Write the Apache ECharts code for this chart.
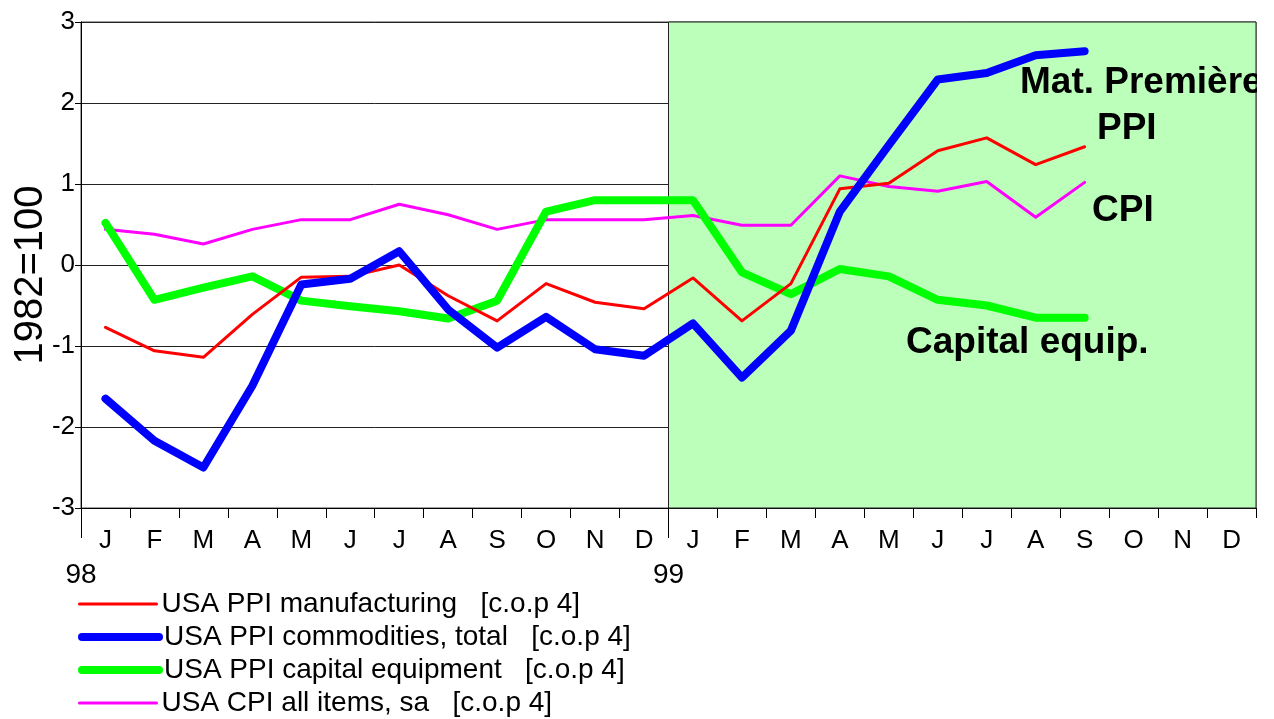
<!DOCTYPE html>
<html>
<head>
<meta charset="utf-8">
<script src="https://cdn.jsdelivr.net/npm/echarts@6/dist/echarts.min.js"></script>
<style>
html, body { margin: 0; padding: 0; background: #fff; }
#container { width: 1274px; height: 719px; }
</style>
</head>
<body>
<div id="container"></div>
<script>
'use strict';
var months = ['J','F','M','A','M','J','J','A','S','O','N','D',
              'J','F','M','A','M','J','J','A','S','O','N','D'];
var yearLabels = ['98', '99'];

// 1982=100, Jan 98 .. Dec 99 (no data after Sep 99)
var ppiManuf = [-0.77, -1.06, -1.14, -0.61, -0.15, -0.14, 0.00, -0.38, -0.69, -0.23, -0.46, -0.54,
                -0.16, -0.69, -0.23, 0.94, 1.01, 1.41, 1.57, 1.24, 1.46, null, null, null];
var ppiComm = [-1.65, -2.17, -2.50, -1.49, -0.24, -0.17, 0.17, -0.55, -1.02, -0.64, -1.04, -1.12,
               -0.72, -1.39, -0.81, 0.66, 1.48, 2.29, 2.37, 2.59, 2.64, null, null, null];
var ppiCapEq = [0.52, -0.43, -0.28, -0.14, -0.44, -0.51, -0.57, -0.66, -0.44, 0.66, 0.80, 0.80,
                0.80, -0.09, -0.36, -0.05, -0.14, -0.43, -0.50, -0.65, -0.65, null, null, null];
var cpiAll = [0.44, 0.38, 0.26, 0.44, 0.56, 0.56, 0.75, 0.62, 0.44, 0.56, 0.56, 0.56,
              0.61, 0.49, 0.49, 1.10, 0.97, 0.91, 1.03, 0.59, 1.02, null, null, null];

var names = ['USA PPI manufacturing   [c.o.p 4]',
             'USA PPI commodities, total   [c.o.p 4]',
             'USA PPI capital equipment   [c.o.p 4]',
             'USA CPI all items, sa   [c.o.p 4]'];
var legendWidths = [3, 8, 8, 3];

var dom = document.getElementById('container');
var myChart = echarts.init(dom, null, { renderer: 'canvas' });

function lineSeries(name, data, color, width) {
    return {
        name: name,
        type: 'line',
        data: data,
        showSymbol: false,
        symbol: 'none',
        silent: true,
        lineStyle: { color: color, width: width, cap: 'round', join: 'round' },
        itemStyle: { color: color }
    };
}

var font = 'Liberation Sans, Arial, sans-serif';
function note(text, x, y) {
    return {
        type: 'text', left: x, top: y, z: 100,
        style: { text: text, font: 'bold 37px ' + font, fill: '#000' }
    };
}

// one legend box per row so the list stays in a single column
var legends = names.map(function (n, i) {
    return {
        orient: 'vertical', left: 78, top: 590 + i * 33, padding: 0,
        itemWidth: 77, itemHeight: 24,
        itemStyle: { opacity: 0 },
        textStyle: { fontFamily: font, fontSize: 28, color: '#000' },
        data: [{ name: n, lineStyle: { width: legendWidths[i] } }]
    };
});

var option = {
    animation: false,
    backgroundColor: '#fff',
    grid: { left: 81, right: 18, top: 22, bottom: 211, outerBoundsMode: 'none',
            show: true, borderColor: '#444', borderWidth: 1 },
    legend: legends,
    xAxis: [{
        type: 'category', data: months, boundaryGap: true, position: 'bottom',
        axisLine: { show: true, onZero: false, lineStyle: { color: '#000' } },
        axisTick: { show: true, length: 10, lineStyle: { color: '#000' } },
        axisLabel: { interval: 0, margin: 20, fontFamily: font, fontSize: 26, color: '#000' },
        splitLine: { show: false }
    }, {
        type: 'value', min: 0, max: 24, interval: 12, position: 'bottom', offset: 0,
        axisLine: { show: false, onZero: false },
        axisTick: { show: true, length: 30, lineStyle: { color: '#000' }, customValues: [0, 12] },
        axisLabel: { margin: 53, fontFamily: font, fontSize: 28, color: '#000',
                     customValues: [0, 12],
                     formatter: function (v) { return yearLabels[v / 12] || ''; } },
        splitLine: { show: false }
    }],
    yAxis: {
        type: 'value', min: -3, max: 3, interval: 1,
        name: '1982=100', nameLocation: 'middle', nameGap: 30, nameRotate: 90,
        nameMoveOverlap: false,
        nameTextStyle: { fontFamily: font, fontSize: 40, color: '#000', padding: [0, 20, 0, 0] },
        axisLine: { show: true, onZero: false, lineStyle: { color: '#000' } },
        axisTick: { show: true, length: 6, lineStyle: { color: '#000' } },
        axisLabel: { margin: 6, fontFamily: font, fontSize: 26, color: '#000' },
        splitLine: { show: true, lineStyle: { color: '#222', width: 1 } }
    },
    series: [
        {
            name: 'shade', type: 'line', xAxisIndex: 1, data: [], silent: true,
            markArea: {
                silent: true,
                itemStyle: { color: '#bbffbb', borderColor: '#222', borderWidth: 1 },
                data: [[{ xAxis: 12 }, { xAxis: 24 }]]
            }
        },
        lineSeries(names[3], cpiAll, '#ff00ff', 3),
        lineSeries(names[2], ppiCapEq, '#00ff00', 8),
        lineSeries(names[0], ppiManuf, '#ff0000', 3),
        lineSeries(names[1], ppiComm, '#0000ff', 8)
    ],
    graphic: [
        note('Mat. Première', 1020, 64),
        note('PPI', 1097, 110),
        note('CPI', 1092, 192),
        note('Capital equip.', 906, 324),
        // the plot clips the long label at its right edge
        { type: 'rect', left: 1257, top: 0, z: 110, shape: { width: 17, height: 150 }, style: { fill: '#fff' } }
    ]
};
myChart.setOption(option);
</script>
</body>
</html>
